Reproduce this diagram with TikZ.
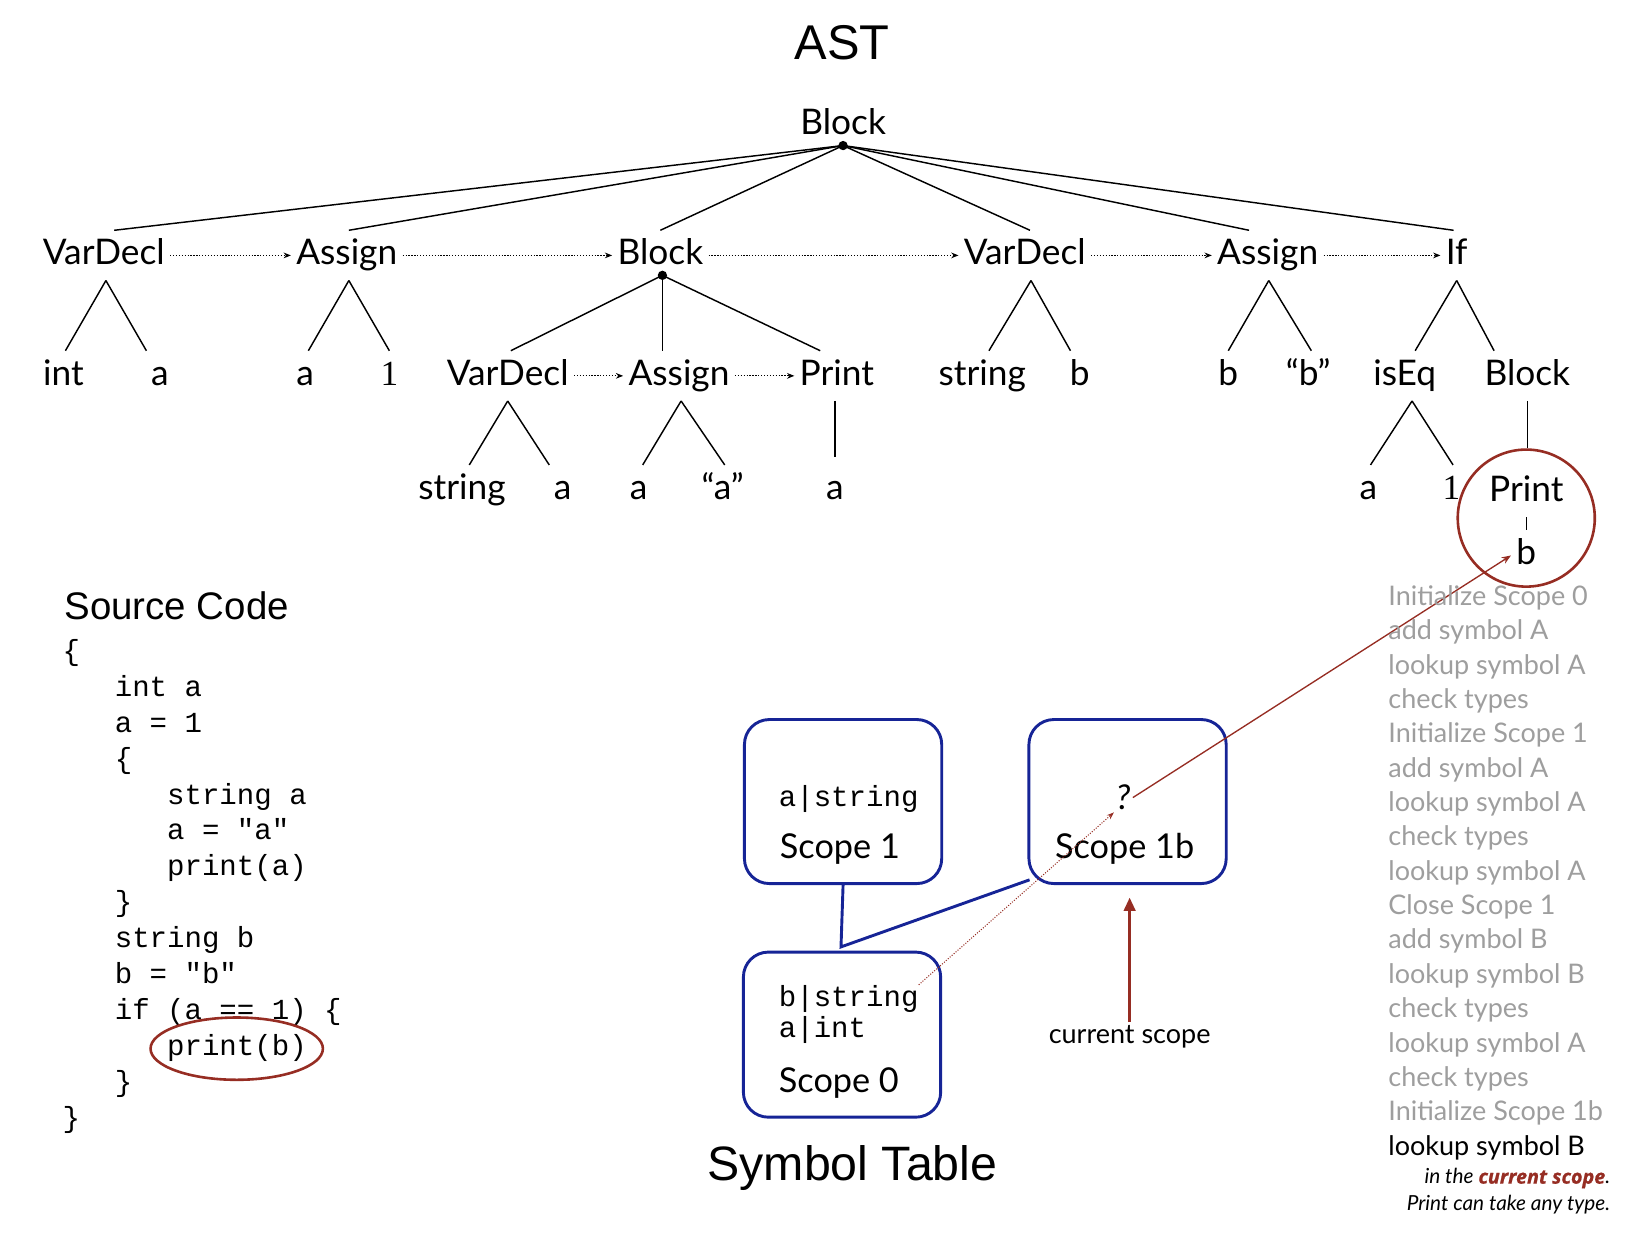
\documentclass[tikz,border=0pt]{standalone}
\usepackage{fontspec}
\setmainfont{Lato}
\newfontfamily\helv{Liberation Sans}
\newfontfamily\cour{Liberation Mono}
\newfontfamily\tms{Liberation Serif}
\newfontfamily\heavyit{Open Sans}[FakeBold=1]
\usetikzlibrary{arrows.meta,shapes.geometric,calc}
\definecolor{darkred}{RGB}{150,45,35}
\definecolor{boxblue}{RGB}{22,36,150}
\definecolor{greytxt}{RGB}{158,158,158}
\tikzset{
  tn/.style={font=\fontsize{34}{40}\selectfont, anchor=base, text height=25pt, text depth=7pt, inner xsep=5pt, inner ysep=8pt},
  serifone/.style={tn, font=\tms\fontsize{34}{40}\selectfont},
  edge/.style={line width=1.4pt, black},
  seq/.style={line width=1pt, dash pattern=on 1.2pt off 1.6pt, -{Stealth[length=7pt,width=5.5pt]}},
  codeline/.style={font=\cour\fontsize{28}{32}\selectfont, anchor=base west, inner sep=0pt},
  boxmono/.style={font=\cour\fontsize{28}{32}\selectfont, anchor=base west, inner sep=0pt},
  boxlabel/.style={font=\fontsize{33}{38}\selectfont, anchor=base west, inner sep=0pt},
  scopebox/.style={draw=boxblue, line width=2.8pt, rounded corners=24pt, minimum width=190pt, minimum height=158pt, inner sep=0pt},
  listline/.style={font=\fontsize{26}{30}\selectfont, anchor=base west, inner sep=0pt, text=greytxt},
  title/.style={font=\helv\fontsize{47}{54}\selectfont, anchor=base, inner sep=0pt},
}
\begin{document}
\begin{tikzpicture}[x=1pt,y=-1pt]
\path[use as bounding box] (0,0) rectangle (1568,1196);

% ---------- AST ----------
\node[title] (asttitle) at (811,57) {AST};

\node[tn] (root) at (812,130) {Block};
\coordinate (rd) at ([yshift=5pt]root.south);

% level 1
\node[tn] (v1) at (100,255) {VarDecl};
\node[tn] (a1) at (334,255) {Assign};
\node[tn] (b1) at (636,255) {Block};
\node[tn] (v4) at (987,255) {VarDecl};
\node[tn] (a5) at (1221,255) {Assign};
\node[tn] (if6) at (1403,255) {If};

\draw[edge] (rd) -- ([xshift=10pt]v1.north);
\draw[edge] (rd) -- ([xshift=2pt]a1.north);
\draw[edge] (rd) -- (b1.north);
\draw[edge] (rd) -- ([xshift=5pt]v4.north);
\draw[edge] (rd) -- ([xshift=-18pt]a5.north);
\draw[edge] (rd) -- ([xshift=-3pt]if6.north);
\fill (rd) circle (4.5pt);

\draw[seq] (v1.east) -- (a1.west);
\draw[seq] (a1.east) -- (b1.west);
\draw[seq] (b1.east) -- (v4.west);
\draw[seq] (v4.east) -- (a5.west);
\draw[seq] (a5.east) -- (if6.west);

% level 2 row
\node[tn] (lint) at (61,371) {int};
\node[tn] (la1) at (154,371) {a};
\node[tn] (la2) at (294,371) {a};
\node[serifone] (lone1) at (375,371) {1};
\node[tn] (v2) at (489,371) {VarDecl};
\node[tn] (a3) at (654,371) {Assign};
\node[tn] (p2) at (806,371) {Print};
\node[tn] (lstr1) at (946,371) {string};
\node[tn] (lb1) at (1040,371) {b};
\node[tn] (lb2) at (1183,371) {b};
\node[tn] (lqb) at (1260,371) {“b”};
\node[tn] (ieq) at (1353,371) {isEq};
\node[tn] (blk) at (1471,371) {Block};

\draw[edge] ([xshift=2pt]v1.south) -- ([xshift=2pt]lint.north);
\draw[edge] ([xshift=2pt]v1.south) -- ([xshift=-13pt]la1.north);
\draw[edge] ([xshift=2pt]a1.south) -- ([xshift=3pt]la2.north);
\draw[edge] ([xshift=2pt]a1.south) -- (lone1.north);
\coordinate (bd) at ([xshift=2pt,yshift=5pt]b1.south);
\draw[edge] (bd) -- ([xshift=3pt]v2.north);
\draw[edge] (bd) -- ([xshift=-16pt]a3.north);
\draw[edge] (bd) -- ([xshift=-16pt]p2.north);
\fill (bd) circle (4.5pt);
\draw[edge] ([xshift=6pt]v4.south) -- ([xshift=6.5pt]lstr1.north);
\draw[edge] ([xshift=6pt]v4.south) -- ([xshift=-9pt]lb1.north);
\draw[edge] ([xshift=1pt]a5.south) -- (lb2.north);
\draw[edge] ([xshift=1pt]a5.south) -- ([xshift=3pt]lqb.north);
\draw[edge] (if6.south) -- ([xshift=10pt]ieq.north);
\draw[edge] (if6.south) -- ([xshift=-32pt]blk.north);

\draw[seq] (v2.east) -- (a3.west);
\draw[seq] (a3.east) -- (p2.west);

% level 3 row
\node[tn] (lstr2) at (445,481) {string};
\node[tn] (la3) at (542,481) {a};
\node[tn] (la4) at (615,481) {a};
\node[tn] (lqa) at (696,481) {“a”};
\node[tn] (la5) at (804,481) {a};
\node[tn] (la6) at (1318,481) {a};
\node[serifone] (lone2) at (1398,481) {1};

\draw[edge] (v2.south) -- ([xshift=7pt]lstr2.north);
\draw[edge] (v2.south) -- ([xshift=-13pt]la3.north);
\draw[edge] ([xshift=2pt]a3.south) -- ([xshift=4pt]la4.north);
\draw[edge] ([xshift=2pt]a3.south) -- ([xshift=2pt]lqa.north);
\draw[edge, shorten >=8pt] ([xshift=-2pt]p2.south) -- (la5.north);
\draw[edge] ([xshift=7pt]ieq.south) -- ([xshift=2pt]la6.north);
\draw[edge] ([xshift=7pt]ieq.south) -- ([xshift=1.5pt]lone2.north);

% circled Print b
\node[draw=darkred, line width=2.5pt, circle, minimum size=132pt, inner sep=0pt] (circ) at (1470,499) {};
\node[tn] (p3) at (1470,483) {Print};
\node[tn] (b3) at (1470,544) {b};
\draw[edge] (blk.south) -- (blk.south |- circ.north);
\draw[edge, line width=1.1pt] (p3.south) -- (b3.north);

% ---------- Source code ----------
\node[font=\helv\fontsize{37}{42}\selectfont, anchor=base west, inner sep=0pt] (srctitle) at (62,597) {Source Code};
\node[codeline] (c0) at (60.0,636.0) {\{};
\node[codeline] (c1) at (110.4,670.6) {int a};
\node[codeline] (c2) at (110.4,705.2) {a = 1};
\node[codeline] (c3) at (110.4,739.8) {\{};
\node[codeline] (c4) at (160.8,774.4) {string a};
\node[codeline] (c5) at (160.8,809.0) {a = "a"};
\node[codeline] (c6) at (160.8,843.6) {print(a)};
\node[codeline] (c7) at (110.4,878.2) {\}};
\node[codeline] (c8) at (110.4,912.8) {string b};
\node[codeline] (c9) at (110.4,947.4) {b = "b"};
\node[codeline] (c10) at (110.4,982.0) {if (a == 1) \{};
\node[codeline] (c11) at (160.8,1016.6) {print(b)};
\node[codeline] (c12) at (110.4,1051.2) {\}};
\node[codeline] (c13) at (60.0,1085.8) {\}};
\node[draw=darkred, line width=2.5pt, ellipse, minimum width=166pt, minimum height=60pt, inner sep=0pt] (pbell) at (228,1010) {};

% ---------- Symbol table ----------
\node[scopebox] (s1) at (812,772) {};
\node[scopebox] (s1b) at (1086,772) {};
\node[scopebox, minimum height=159pt] (s0) at (811,996.5) {};

\node[boxmono] (astr) at (750,777) {a|string};
\node[boxlabel] (s1lab) at (751,827) {Scope 1};
\node[font=\itshape\fontsize{33}{38}\selectfont, anchor=base, inner sep=2pt] (q) at (1082,780) {?};
\node[boxlabel] (s1blab) at (1016,827) {Scope 1b};
\node[boxmono] (bstr) at (750,969) {b|string};
\node[boxmono] (aint) at (750,999) {a|int};
\node[boxlabel] (s0lab) at (750,1052) {Scope 0};

\coordinate (j) at (810,912);
\draw[boxblue, line width=2.8pt] (s1.south) -- (j) -- ([xshift=2pt,yshift=5pt]s1b.south west);

\node[font=\fontsize{26}{30}\selectfont, anchor=base, inner sep=3pt] (cs) at (1088,1005) {current scope};
\draw[darkred, line width=3pt, shorten >=12pt, -{Triangle[length=13pt,width=11pt]}] (cs.north) -- (cs.north |- s1b.south);

\draw[darkred, line width=1pt, dash pattern=on 1pt off 1.5pt, -{Stealth[length=7pt,width=5pt]}] (bstr.north east) -- (q.south west);
\draw[darkred, line width=1.3pt, -{Stealth[length=9pt,width=7pt]}] (q.east) -- (b3.west);

\node[font=\helv\fontsize{46.5}{52}\selectfont, anchor=base, inner sep=0pt] (symtitle) at (821,1137) {Symbol Table};

% ---------- side list ----------
\node[listline] (t0) at (1337,583.0) {Initialize Scope 0};
\node[listline] (t1) at (1337,616.1) {add symbol A};
\node[listline] (t2) at (1337,649.2) {lookup symbol A};
\node[listline] (t3) at (1337,682.3) {check types};
\node[listline] (t4) at (1337,715.4) {Initialize Scope 1};
\node[listline] (t5) at (1337,748.5) {add symbol A};
\node[listline] (t6) at (1337,781.6) {lookup symbol A};
\node[listline] (t7) at (1337,814.7) {check types};
\node[listline] (t8) at (1337,847.8) {lookup symbol A};
\node[listline] (t9) at (1337,880.9) {Close Scope 1};
\node[listline] (t10) at (1337,914.0) {add symbol B};
\node[listline] (t11) at (1337,947.1) {lookup symbol B};
\node[listline] (t12) at (1337,980.2) {check types};
\node[listline] (t13) at (1337,1013.3) {lookup symbol A};
\node[listline] (t14) at (1337,1046.4) {check types};
\node[listline] (t15) at (1337,1079.5) {Initialize Scope 1b};
\node[listline, text=black] (t16) at (1337,1112.6) {lookup symbol B};
\node[font=\itshape\fontsize{20}{24}\selectfont, anchor=base east, inner sep=0pt] (n1) at (1551,1140) {in the {\heavyit\fontsize{19}{24}\selectfont\bfseries\itshape\color{darkred}current scope}.};
\node[font=\itshape\fontsize{20}{24}\selectfont, anchor=base east, inner sep=0pt] (n2) at (1551,1166) {Print can take any type.};
\end{tikzpicture}
\end{document}
